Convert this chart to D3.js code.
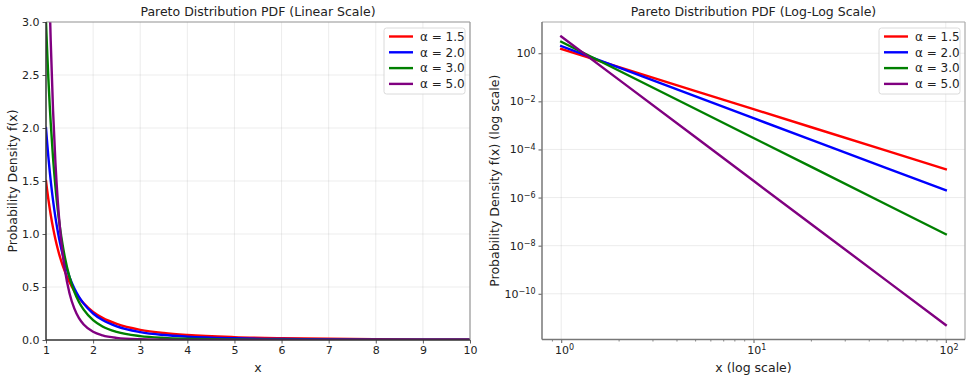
<!DOCTYPE html>
<html>
<head>
<meta charset="utf-8">
<script src="https://cdn.jsdelivr.net/npm/d3@7"></script>
<style>
  html, body { margin: 0; padding: 0; background: #fff; }
  svg { display: block; font-family: "DejaVu Sans", sans-serif; }
</style>
</head>
<body>
<svg id="chart" width="972" height="380"></svg>
<script>
// ---- data ----
const alphas = [1.5, 2.0, 3.0, 5.0];
const seriesLabels = ["α = 1.5", "α = 2.0", "α = 3.0", "α = 5.0"];
const seriesColors = ["#ff0000", "#0000ff", "#008000", "#800080"];

const linX = [1, 1.02, 1.05, 1.08, 1.1, 1.15, 1.2, 1.25, 1.3, 1.35, 1.4, 1.5, 1.6, 1.7, 1.8, 2, 2.2, 2.5, 3, 3.5, 4, 5, 6, 7, 8, 9, 10];
const linY15 = [1.5, 1.427, 1.328, 1.237, 1.182, 1.058, 0.951, 0.859, 0.778, 0.708, 0.647, 0.544, 0.463, 0.398, 0.345, 0.265, 0.209, 0.152, 0.0962, 0.0655, 0.0469, 0.0268, 0.0170, 0.0116, 0.00829, 0.00617, 0.00474];
const linY20 = [2.0, 1.885, 1.728, 1.588, 1.503, 1.315, 1.157, 1.024, 0.910, 0.813, 0.729, 0.593, 0.488, 0.407, 0.343, 0.25, 0.188, 0.128, 0.0741, 0.0466, 0.03125, 0.016, 0.00926, 0.00583, 0.00391, 0.00274, 0.002];
const linY30 = [3.0, 2.772, 2.468, 2.205, 2.049, 1.715, 1.447, 1.229, 1.050, 0.903, 0.781, 0.593, 0.458, 0.359, 0.286, 0.1875, 0.128, 0.0768, 0.0370, 0.0200, 0.0117, 0.0048, 0.00231, 0.00125, 0.000732, 0.000457, 0.0003];
const linY50 = [5.0, 4.440, 3.731, 3.151, 2.822, 2.162, 1.674, 1.311, 1.036, 0.826, 0.664, 0.439, 0.298, 0.207, 0.147, 0.0781, 0.0441, 0.0205, 0.00686, 0.00272, 0.00122, 0.00032, 0.000107, 0.0000425, 0.0000191, 0.0000094, 0.000005];

const logX = [1, 2, 5, 10, 20, 50, 100];
const logY15 = [1.5, 0.2652, 0.02683, 0.004743, 0.000838, 0.00008485, 0.000015];
const logY20 = [2.0, 0.25, 0.016, 0.002, 0.00025, 0.000016, 0.000002];
const logY30 = [3.0, 0.1875, 0.0048, 0.0003, 0.00001875, 4.8e-7, 3e-8];
const logY50 = [5.0, 0.0781, 0.00032, 0.000005, 7.81e-8, 3.2e-10, 5e-12];

const linXTicks = [1, 2, 3, 4, 5, 6, 7, 8, 9, 10];
const linYTicks = [0.0, 0.5, 1.0, 1.5, 2.0, 2.5, 3.0];
const logXTicks = [1, 10, 100];
const logYTicks = [1, 1e-2, 1e-4, 1e-6, 1e-8, 1e-10];

// ---- drawing ----
const svg = d3.select("#chart");
const linSeries = [linY15, linY20, linY30, linY50];
const logSeries = [logY15, logY20, logY30, logY50];

function drawPanel(cfg) {
  const g = svg.append("g");
  const {left, right, top, bottom} = cfg;
  const x = cfg.x, y = cfg.y;

  const clipId = "clip" + cfg.id;
  svg.append("defs").append("clipPath").attr("id", clipId)
    .append("rect").attr("x", left).attr("y", top).attr("width", right - left).attr("height", bottom - top);

  // grid
  g.append("g").selectAll("line").data(cfg.xGrid).join("line")
    .attr("x1", d => x(d)).attr("x2", d => x(d)).attr("y1", top).attr("y2", bottom)
    .attr("stroke", "#b0b0b0").attr("stroke-opacity", 0.3).attr("stroke-width", 0.8);
  g.append("g").selectAll("line").data(cfg.yGrid).join("line")
    .attr("y1", d => y(d)).attr("y2", d => y(d)).attr("x1", left).attr("x2", right)
    .attr("stroke", "#b0b0b0").attr("stroke-opacity", 0.3).attr("stroke-width", 0.8);

  // lines
  const line = d3.line().x(d => x(d[0])).y(d => y(d[1])).curve(cfg.curve);
  const lg = g.append("g").attr("clip-path", `url(#${clipId})`);
  cfg.series.forEach((ys, i) => {
    lg.append("path").datum(cfg.xs.map((xv, j) => [xv, ys[j]]))
      .attr("d", line).attr("fill", "none")
      .attr("stroke", seriesColors[i]).attr("stroke-width", 2.4)
      .attr("stroke-linejoin", "round").attr("stroke-linecap", "square");
  });

  // axes
  const xAxis = d3.axisBottom(x).tickValues(cfg.xTicks).tickSize(3.5).tickPadding(3).tickFormat(cfg.sup ? () => "" : cfg.xFmt);
  const yAxis = d3.axisLeft(y).tickValues(cfg.yTicks).tickSize(3.5).tickPadding(3).tickFormat(cfg.sup ? () => "" : cfg.yFmt);
  const gx = g.append("g").attr("transform", `translate(0,${bottom})`).call(xAxis);
  const gy = g.append("g").attr("transform", `translate(${left},0)`).call(yAxis);
  [gx, gy].forEach(a => {
    a.select(".domain").remove();
    a.selectAll(".tick line").attr("stroke", "#333").attr("stroke-width", 0.8);
    a.selectAll(".tick text").attr("fill", "#222").style("font-size", "11px").style("font-family", "DejaVu Sans, sans-serif");
  });
  if (cfg.sup) {
    const supLabel = (sel, d) => {
      const e = Math.round(Math.log10(d));
      sel.text(null);
      sel.append("tspan").text("10");
      sel.append("tspan").attr("dy", "-0.45em").style("font-size", "8px").text(String(e).replace("-", "−"));
    };
    gx.selectAll(".tick text").each(function(d) { supLabel(d3.select(this), d); d3.select(this).attr("dx", "0.25em"); });
    gy.selectAll(".tick text").each(function(d) { supLabel(d3.select(this), d); });
  }
  if (cfg.xMinor) {
    g.append("g").selectAll("line").data(cfg.xMinor).join("line")
      .attr("x1", d => x(d)).attr("x2", d => x(d)).attr("y1", bottom).attr("y2", bottom + 2)
      .attr("stroke", "#333").attr("stroke-width", 0.6);
  }

  // spines
  g.append("line").attr("x1", left).attr("x2", right).attr("y1", top).attr("y2", top)
    .attr("stroke", cfg.spineLight).attr("stroke-width", 1.2);
  g.append("line").attr("x1", right).attr("x2", right).attr("y1", top).attr("y2", bottom)
    .attr("stroke", cfg.spineLight).attr("stroke-width", 1.2);
  g.append("line").attr("x1", left).attr("x2", left).attr("y1", top).attr("y2", bottom)
    .attr("stroke", cfg.spineDark).attr("stroke-width", 1.5);
  g.append("line").attr("x1", left).attr("x2", right).attr("y1", bottom).attr("y2", bottom)
    .attr("stroke", cfg.spineDark).attr("stroke-width", 1.5);

  // title & labels
  g.append("text").attr("x", (left + right) / 2).attr("y", 16).attr("text-anchor", "middle")
    .style("font-size", "12.5px").attr("fill", "#222").text(cfg.title);
  g.append("text").attr("x", (left + right) / 2).attr("y", 372).attr("text-anchor", "middle")
    .style("font-size", "12.5px").attr("fill", "#222").text(cfg.xLabel);
  g.append("text").attr("transform", `translate(${cfg.yLabelX},${(top + bottom) / 2}) rotate(-90)`)
    .attr("text-anchor", "middle").style("font-size", "12.5px").attr("fill", "#222").text(cfg.yLabel);

  // legend
  const lx = right - 86, ly = top + 6;
  const leg = g.append("g");
  leg.append("rect").attr("x", lx).attr("y", ly).attr("width", 81).attr("height", 66)
    .attr("rx", 2.5).attr("fill", "#fff").attr("fill-opacity", 0.85)
    .attr("stroke", "#d0d0d0").attr("stroke-width", 0.8);
  seriesLabels.forEach((lab, i) => {
    const yy = ly + 8.5 + i * 15.8;
    leg.append("line").attr("x1", lx + 5).attr("x2", lx + 29).attr("y1", yy).attr("y2", yy)
      .attr("stroke", seriesColors[i]).attr("stroke-width", 2.4);
    leg.append("text").attr("x", lx + 36).attr("y", yy + 4.3).style("font-size", "12px")
      .attr("fill", "#222").text(lab);
  });
}

// linear panel
const xLin = d3.scaleLinear().domain([1, 10]).range([46, 470]);
const yLin = d3.scaleLinear().domain([0, 3]).range([340, 22]);
drawPanel({
  id: "lin", left: 46, right: 470, top: 22, bottom: 340, x: xLin, y: yLin,
  xs: linX, series: linSeries, curve: d3.curveMonotoneX,
  xTicks: linXTicks, yTicks: linYTicks, xGrid: linXTicks, yGrid: linYTicks,
  xFmt: d3.format("d"), yFmt: d3.format(".1f"),
  spineDark: "#333", spineLight: "#999",
  title: "Pareto Distribution PDF (Linear Scale)", xLabel: "x",
  yLabel: "Probability Density f(x)", yLabelX: 17
});

// log panel
const xLog = d3.scaleLog().domain([Math.pow(10, -0.1), Math.pow(10, 2.1)]).range([542, 965]);
const yLog = d3.scaleLog().domain([Math.pow(10, -11.9013), Math.pow(10, 1.2990)]).range([339.5, 22]);
const xMinor = [];
[1, 10].forEach(b => { for (let k = 2; k <= 9; k++) xMinor.push(b * k); });
xMinor.unshift(0.9);
xMinor.push(200);
drawPanel({
  id: "log", left: 542, right: 965, top: 22, bottom: 339.5, x: xLog, y: yLog,
  xs: logX, series: logSeries, curve: d3.curveLinear, sup: true,
  xTicks: logXTicks, yTicks: logYTicks, xGrid: logXTicks, yGrid: logYTicks,
  xMinor: xMinor.filter(v => v >= Math.pow(10, -0.1) && v <= Math.pow(10, 2.1)),
  spineDark: "#777", spineLight: "#aaa",
  title: "Pareto Distribution PDF (Log-Log Scale)", xLabel: "x (log scale)",
  yLabel: "Probability Density f(x) (log scale)", yLabelX: 499
});
</script>
</body>
</html>
